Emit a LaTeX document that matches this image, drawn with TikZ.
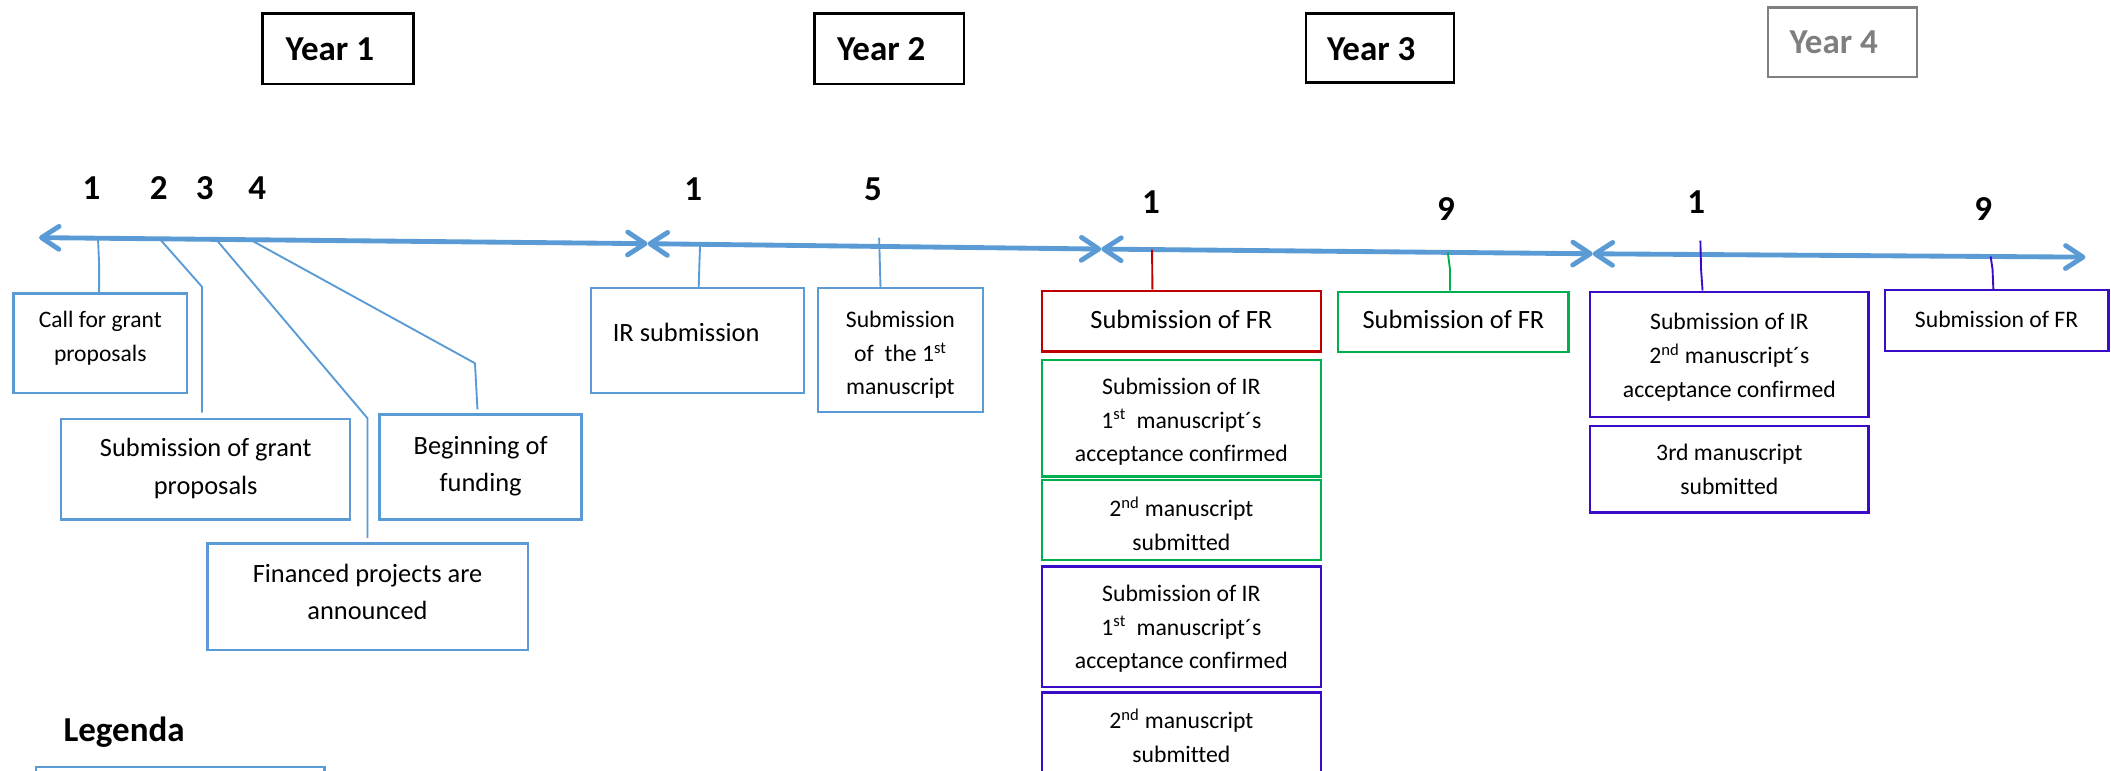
\documentclass[tikz,border=0pt]{standalone}
\usepackage{fontspec}
\setmainfont{Carlito}[Ligatures=NoCommon]
\usetikzlibrary{arrows.meta}
\definecolor{tlblue}{HTML}{5B9BD5}
\definecolor{fred}{HTML}{C00000}
\definecolor{fgreen}{HTML}{00B050}
\definecolor{fpurple}{RGB}{58,12,200}
\definecolor{fgray}{HTML}{7F7F7F}
\tikzset{
  bx/.style={draw=#1, line width=1.8pt, inner sep=0pt, rectangle},
  conn/.style={draw=#1, line width=1.4pt, line join=round},
  tl/.style={draw=tlblue, line width=3.6pt, line cap=round,
    >={Straight Barb[length=13pt,width=17pt,round]}},
  big/.style={font=\fontsize{19.6}{27.6}\selectfont, align=center, inner sep=0pt},
  small/.style={font=\fontsize{17.6}{24.9}\selectfont, align=center, inner sep=0pt},
  yr/.style={font=\fontsize{26}{31}\selectfont\bfseries, inner sep=0pt},
}
\begin{document}
\begin{tikzpicture}[x=1pt,y=-1pt]
\useasboundingbox (0,0) rectangle (1568,572);
\clip (0,0) rectangle (1568,572);

% ---------- year boxes
\node[bx=black, minimum width=112pt, minimum height=52.5pt] (y1) at (251,36.25) {};
\node[yr, anchor=base west] (y1t) at (212,45.3) {Year 1};
\node[bx=black, minimum width=111pt, minimum height=52.5pt] (y2) at (660.5,36.25) {};
\node[yr, anchor=base west] (y2t) at (621.5,45.3) {Year 2};
\node[bx=black, minimum width=110pt, minimum height=51.4pt] (y3) at (1025,35.7) {};
\node[yr, anchor=base west] (y3t) at (985.5,44.6) {Year 3};
\node[bx=fgray, minimum width=111pt, minimum height=51.5pt] (y4) at (1368.5,31.25) {};
\node[yr, anchor=base west, text=fgray] (y4t) at (1329,39.6) {Year 4};

% ---------- month numbers
\node[yr, anchor=base] (n11) at (68,148.5) {1};
\node[yr, anchor=base] (n12) at (118,148.5) {2};
\node[yr, anchor=base] (n13) at (152,148.5) {3};
\node[yr, anchor=base] (n14) at (191,148.5) {4};
\node[yr, anchor=base] (n21) at (515,148.6) {1};
\node[yr, anchor=base] (n25) at (648.5,148.6) {5};
\node[yr, anchor=base] (n31) at (855,158.5) {1};
\node[yr, anchor=base] (n39) at (1074,163.5) {9};
\node[yr, anchor=base] (n41) at (1260,158.5) {1};
\node[yr, anchor=base] (n49) at (1473,164) {9};

% ---------- timeline
\coordinate (t0) at (29,176.5);
\coordinate (t1) at (481,181);
\coordinate (t2) at (818,185);
\coordinate (t3) at (1183,188.5);
\coordinate (t4) at (1549,191);
\draw[tl,<->] (t0) -- (t1);
\draw[tl,<->] (t1) -- (t2);
\draw[tl,<->] (t2) -- (t3);
\draw[tl,<->] (t3) -- (t4);

% ---------- year 1 boxes
\node[bx=tlblue, minimum width=129pt, minimum height=74pt] (call) at (74.5,255) {};
\node[small, font=\fontsize{17.5}{24.8}\selectfont] (callt) at (74.5,251.3) {Call for grant\\proposals};
\node[bx=tlblue, minimum width=214.5pt, minimum height=74.6pt] (subgp) at (152.75,348.7) {};
\node[big] (subgpt) at (152.8,348) {Submission of grant\\proposals};
\node[bx=tlblue, minimum width=150pt, minimum height=78pt] (begin) at (357,347) {};
\node[big] (begint) at (357,346.2) {Beginning of\\funding};
\node[bx=tlblue, minimum width=238pt, minimum height=79.4pt] (fin) at (273,443.3) {};
\node[big] (fint) at (273,439.4) {Financed projects are\\announced};

% ---------- year 2 boxes
\node[bx=tlblue, minimum width=158pt, minimum height=78pt] (ir) at (518,253) {};
\node[big, anchor=base west] (irt) at (455,253.9) {IR submission};
\node[bx=tlblue, minimum width=122.4pt, minimum height=92pt] (subone) at (668.8,260) {};
\node[small] (subonet) at (668.8,263.8) {Submission\\of~ the 1\textsuperscript{st}\\manuscript};

% ---------- year 3 boxes
\node[bx=fred, minimum width=207pt, minimum height=45pt] (redfr) at (877.5,238.5) {};
\node[big, anchor=base] (redfrt) at (877.5,244) {Submission of FR};
\node[bx=fgreen, minimum width=207pt, minimum height=86.6pt] (gir) at (877.5,310.7) {};
\node[small] (girt) at (877.5,313.4) {Submission of IR\\1\textsuperscript{st}~ manuscript´s\\acceptance confirmed};
\node[bx=fgreen, minimum width=207pt, minimum height=59.4pt] (gsec) at (877.5,386.1) {};
\node[small] (gsect) at (877.5,389) {2\textsuperscript{nd} manuscript\\submitted};
\node[bx=fpurple, minimum width=207pt, minimum height=89.6pt] (pir) at (877.5,465.6) {};
\node[small] (pirt) at (877.5,467) {Submission of IR\\1\textsuperscript{st}~ manuscript´s\\acceptance confirmed};
\node[bx=fpurple, minimum width=207pt, minimum height=85.7pt] (psec) at (877.5,557.15) {};
\node[small] (psect) at (877.5,546.5) {2\textsuperscript{nd} manuscript\\submitted};
\node[bx=fgreen, minimum width=171pt, minimum height=44.6pt] (gfr) at (1079.5,239) {};
\node[big, anchor=base] (gfrt) at (1079.6,244) {Submission of FR};

% ---------- year 4 boxes
\node[bx=fpurple, minimum width=207pt, minimum height=92.9pt] (yfir) at (1284.5,263.15) {};
\node[small] (yfirt) at (1284.5,265.3) {Submission of IR\\2\textsuperscript{nd} manuscript´s\\acceptance confirmed};
\node[bx=fpurple, minimum width=207pt, minimum height=64.4pt] (yfthr) at (1284.5,348.6) {};
\node[small] (yfthrt) at (1284.5,348.6) {3rd manuscript\\submitted};
\node[bx=fpurple, minimum width=166pt, minimum height=45.1pt] (pfr) at (1483,238.15) {};
\node[small, anchor=base] (pfrt) at (1483,243.6) {Submission of FR};

% ---------- legend
\node[yr, anchor=base west] (leg) at (47,551) {Legenda};
\node[bx=tlblue, minimum width=214.3pt, minimum height=60.4pt] (legbox) at (133.85,599.8) {};

% ---------- connectors year 1
\coordinate (a1) at (72.8,176.9);
\coordinate (a1k) at (73.6,196);
\draw[conn=tlblue] (a1) -- (a1k) -- (a1k |- call.north);
\coordinate (a2) at (118.6,177.4);
\coordinate (a2k) at (150,213);
\draw[conn=tlblue, shorten >=4pt] (a2) -- (a2k) -- (a2k |- subgp.north);
\coordinate (a3) at (160.5,177.8);
\coordinate (a3k) at (273,310.7);
\draw[conn=tlblue, shorten >=3pt] (a3) -- (a3k) -- (a3k |- fin.north);
\coordinate (a4) at (186,178.1);
\coordinate (a4k) at (352.8,269.8);
\draw[conn=tlblue, shorten >=3pt] (a4) -- (a4k) -- (354.8,0 |- begin.north);

% ---------- connectors year 2
\coordinate (b1) at (520,181.5);
\coordinate (b1k) at (519.5,196);
\draw[conn=tlblue] (b1) -- (b1k) -- (519,0 |- ir.north);
\coordinate (b5) at (653,176.6);
\draw[conn=tlblue] (b5) -- (654,0 |- subone.north);

% ---------- connectors year 3
\coordinate (c1) at (855.7,185.4);
\draw[conn=fred] (c1) -- (856,0 |- redfr.north);
\coordinate (c9) at (1075.4,187.5);
\coordinate (c9k) at (1077,200);
\draw[conn=fgreen] (c9) -- (c9k) -- (c9k |- gfr.north);

% ---------- connectors year 4
\coordinate (d1) at (1263,178.8);
\coordinate (d1k) at (1263.5,200);
\draw[conn=fpurple] (d1) -- (d1k) -- (1264.6,0 |- yfir.north);
\coordinate (d9) at (1478.6,190.5);
\coordinate (d9k) at (1480,200);
\draw[conn=fpurple] (d9) -- (d9k) -- (1480.6,0 |- pfr.north);
\end{tikzpicture}
\end{document}
